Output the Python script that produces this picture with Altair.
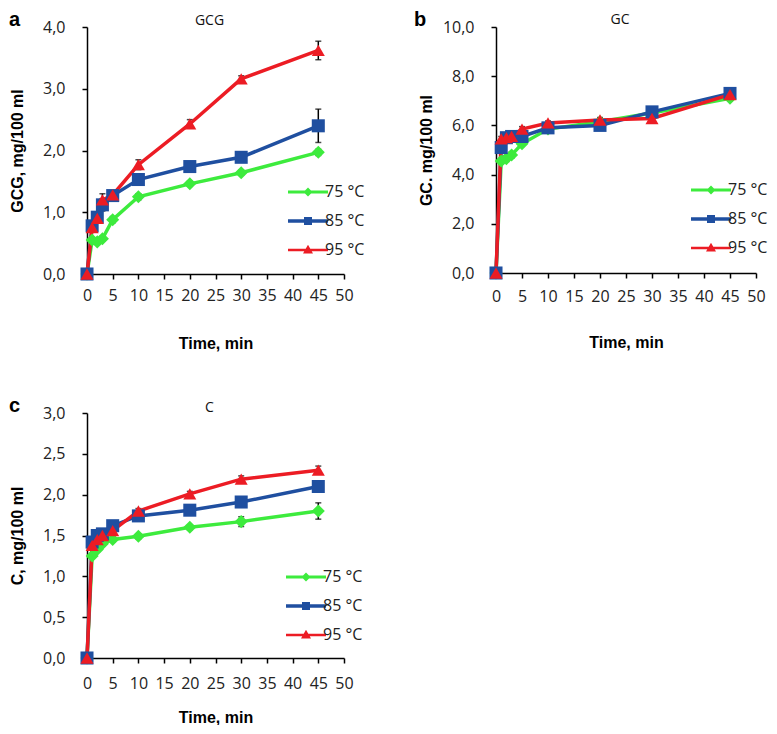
import altair as alt
import pandas as pd

# ---------------- data ----------------
TIME = [0, 1, 2, 3, 5, 10, 20, 30, 45]
SERIES = ["75 °C", "85 °C", "95 °C"]
COLORS = ["#3DEB3D", "#1F4FA0", "#EC1C24"]
SHAPES = ["diamond", "square", "triangle-up"]

# panel a: GCG
GCG_75 = [0, 0.55, 0.52, 0.57, 0.88, 1.25, 1.46, 1.64, 1.97]
GCG_85 = [0, 0.78, 0.92, 1.12, 1.27, 1.53, 1.74, 1.89, 2.40]
GCG_95 = [0, 0.75, 0.90, 1.20, 1.28, 1.77, 2.43, 3.16, 3.62]
GCG_75_ERR = [0, 0.03, 0.04, 0.04, 0.05, 0.05, 0.04, 0.04, 0.05]
GCG_85_ERR = [0, 0.05, 0.06, 0.10, 0.05, 0.04, 0.04, 0.04, 0.27]
GCG_95_ERR = [0, 0.05, 0.06, 0.10, 0.05, 0.08, 0.07, 0.05, 0.15]

# panel b: GC
GC_75 = [0, 4.55, 4.65, 4.80, 5.25, 5.85, 6.15, 6.50, 7.10]
GC_85 = [0, 5.10, 5.50, 5.55, 5.55, 5.90, 6.00, 6.55, 7.30]
GC_95 = [0, 5.45, 5.50, 5.55, 5.85, 6.10, 6.22, 6.28, 7.25]
GC_75_ERR = [0, 0.10, 0.12, 0.12, 0.10, 0.08, 0.08, 0.08, 0.10]
GC_85_ERR = [0, 0.10, 0.10, 0.10, 0.10, 0.08, 0.08, 0.08, 0.10]
GC_95_ERR = [0, 0.10, 0.10, 0.10, 0.10, 0.08, 0.10, 0.08, 0.10]

# panel c: C
C_75 = [0, 1.25, 1.33, 1.40, 1.45, 1.49, 1.60, 1.67, 1.80]
C_85 = [0, 1.42, 1.50, 1.52, 1.62, 1.74, 1.81, 1.91, 2.10]
C_95 = [0, 1.38, 1.45, 1.50, 1.56, 1.80, 2.01, 2.19, 2.30]
C_75_ERR = [0, 0.03, 0.03, 0.03, 0.03, 0.03, 0.03, 0.06, 0.10]
C_85_ERR = [0, 0.03, 0.04, 0.06, 0.05, 0.03, 0.03, 0.03, 0.03]
C_95_ERR = [0, 0.03, 0.03, 0.03, 0.03, 0.03, 0.03, 0.04, 0.05]

# legend symbols: a line segment with the marker in its middle
LEGEND_PATHS = [
    "M-2,-0.16L2,-0.16L2,0.16L-2,0.16ZM0,-0.45L0.45,0L0,0.45L-0.45,0Z",
    "M-2,-0.17L2,-0.17L2,0.17L-2,0.17ZM-0.4,-0.4L0.4,-0.4L0.4,0.4L-0.4,0.4Z",
    "M-2,-0.13L2,-0.13L2,0.13L-2,0.13ZM0,-0.52L0.5,0.36L-0.5,0.36Z",
]

TICK_FONT = "Open Sans"
BOLD_FONT = "Liberation Sans"


def make_df(vals, errs):
    rows = []
    for s, v, e in zip(SERIES, vals, errs):
        for t, y, err in zip(TIME, v, e):
            rows.append({"t": t, "y": y, "lo": y - err, "hi": y + err, "series": s})
    return pd.DataFrame(rows)


def panel(df, letter, title, ytitle, ymax, ystep, W, H, label_pad, x_title_y,
          legend_x, legend_y, letter_x, title_dy):
    yvals = [round(i * ystep, 2) for i in range(int(round(ymax / ystep)) + 1)]
    x = alt.X("t:Q", scale=alt.Scale(domain=[0, 50], nice=False),
              axis=alt.Axis(values=list(range(0, 51, 5)), title="Time, min",
                            labelPadding=label_pad, titleY=x_title_y, format="d",
                            labelOverlap=False, labelFlush=False))
    y = alt.Y("y:Q", scale=alt.Scale(domain=[0, ymax], nice=False),
              axis=alt.Axis(values=yvals, title=ytitle, titleX=-62, titleY=H / 2,
                            labelFlush=False, labelOverlap=False,
                            labelExpr="replace(format(datum.value, '.1f'), '.', ',')"))
    color = alt.Color("series:N", scale=alt.Scale(domain=SERIES, range=COLORS), legend=None)
    base = alt.Chart(df)

    err = base.mark_errorbar(ticks=alt.TickConfig(size=6, thickness=1.5, color="black"),
                             color="black", thickness=1.5).encode(
        x=x, y=alt.Y("lo:Q", title=ytitle), y2="hi:Q")
    line = base.mark_line().encode(
        x=x, y=y, color=color,
        strokeWidth=alt.StrokeWidth("series:N", scale=alt.Scale(domain=SERIES, range=[3.5, 3.5, 2.5]),
                                    legend=None))
    pts = base.mark_point(filled=True, opacity=1).encode(
        x=x, y=y, color=color,
        shape=alt.Shape("series:N", scale=alt.Scale(domain=SERIES, range=SHAPES), legend=None),
        size=alt.Size("series:N", scale=alt.Scale(domain=SERIES, range=[170, 170, 230]), legend=None))
    leg_props = dict(title=None, orient="none", legendX=legend_x, legendY=legend_y,
                     symbolSize=400, labelOffset=7, rowPadding=11,
                     labelFont=TICK_FONT, labelFontSize=16, labelColor="#222",
                     symbolStrokeWidth=0)
    leg = base.transform_filter("datum.t < 0").mark_point(filled=True, opacity=1, size=400).encode(
        x=x, y=y,
        color=alt.Color("series:N", scale=alt.Scale(domain=SERIES, range=COLORS),
                        legend=alt.Legend(**leg_props)),
        shape=alt.Shape("series:N", scale=alt.Scale(domain=SERIES, range=LEGEND_PATHS),
                        legend=alt.Legend(**leg_props)))
    lab = alt.Chart(pd.DataFrame({"l": [letter]})).mark_text(
        font=BOLD_FONT, fontWeight="bold", fontSize=20, align="left", baseline="alphabetic",
        color="black").encode(text="l:N", x=alt.value(letter_x), y=alt.value(-1))
    ttl = alt.Chart(pd.DataFrame({"l": [title]})).mark_text(
        font=TICK_FONT, fontSize=14, align="center", baseline="alphabetic",
        color="#111").encode(text="l:N", x=alt.value(W / 2 - 6), y=alt.value(title_dy))

    return alt.layer(err, line, pts, leg, lab, ttl).resolve_scale(
        color="independent", shape="independent").properties(width=W, height=H)


df_a = make_df([GCG_75, GCG_85, GCG_95], [GCG_75_ERR, GCG_85_ERR, GCG_95_ERR])
df_b = make_df([GC_75, GC_85, GC_95], [GC_75_ERR, GC_85_ERR, GC_95_ERR])
df_c = make_df([C_75, C_85, C_95], [C_75_ERR, C_85_ERR, C_95_ERR])

pa = panel(df_a, "a", "GCG", "GCG, mg/100 ml", 4.0, 1.0, 257, 247, 8, 61, 211, 155, -78, -2)
pb = panel(df_b, "b", "GC", "GC. mg/100 ml", 10.0, 2.0, 260, 246, 10, 61, 205, 153, -82, -3)
pc = panel(df_c, "c", "C", "C, mg/100 ml", 3.0, 0.5, 257, 245, 12, 51, 209, 154, -78, -1)

chart = alt.vconcat(
    alt.hconcat(pa, pb, spacing=49),
    pc,
    spacing=45,
).properties(padding={"left": 0, "top": 2, "right": 0, "bottom": 0}).configure_view(
    stroke=None).configure_axis(
    grid=False, domainColor="black", domainWidth=1.5, tickColor="black", tickWidth=1.5,
    tickSize=5, labelFont=TICK_FONT, labelFontSize=16, labelColor="#222",
    titleFont=BOLD_FONT, titleFontSize=16, titleFontWeight="bold", titleColor="black",
).configure_axisY(labelPadding=17)

chart.save("out.html", embed_options={"renderer": "svg", "actions": False})
